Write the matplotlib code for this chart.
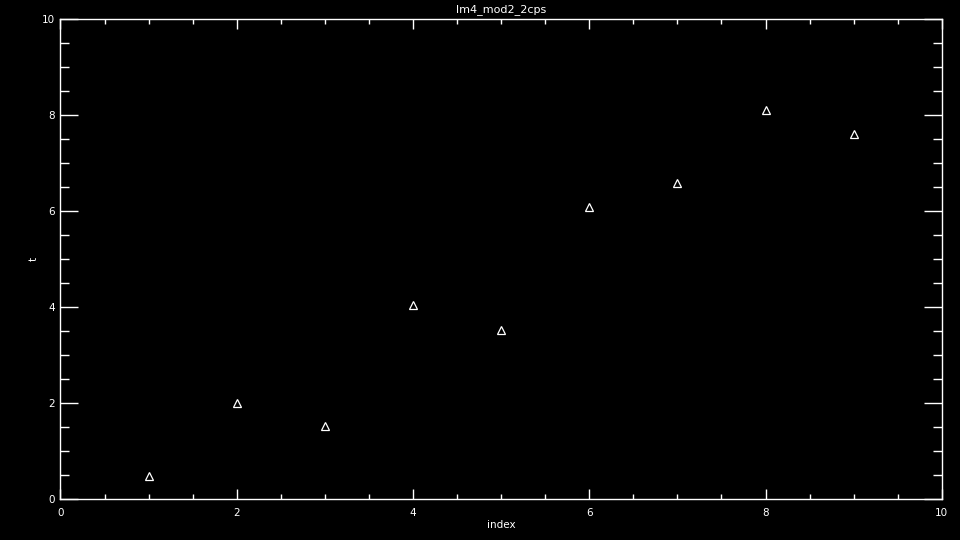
import matplotlib
matplotlib.use('Agg')
import matplotlib.pyplot as plt
from matplotlib.ticker import MultipleLocator

# values
index = [1, 2, 3, 4, 5, 6, 7, 8, 9]
t = [0.49, 2.01, 1.52, 4.04, 3.53, 6.08, 6.58, 8.10, 7.60]

title = 'lm4_mod2_2cps'

fig = plt.figure(figsize=(9.6, 5.4), dpi=100, facecolor='black')
ax = fig.add_axes([0.063, 0.0754, 0.918, 0.8889], facecolor='black')

ax.plot(index, t, linestyle='none', marker='^', markersize=5.5,
        markerfacecolor='none', markeredgecolor='white', markeredgewidth=0.9)

ax.set_xlim(0, 10)
ax.set_ylim(0, 10)
ax.xaxis.set_major_locator(MultipleLocator(2))
ax.xaxis.set_minor_locator(MultipleLocator(0.5))
ax.yaxis.set_major_locator(MultipleLocator(2))
ax.yaxis.set_minor_locator(MultipleLocator(0.5))

for s in ax.spines.values():
    s.set_color('white')
    s.set_linewidth(1.0)

ax.tick_params(which='both', direction='in', colors='white',
               top=True, right=True, width=1.0, labelsize=7.5)
ax.tick_params(axis='x', which='major', length=7.2, pad=6)
ax.tick_params(axis='x', which='minor', length=3.6)
ax.tick_params(axis='y', which='major', length=13, pad=4)
ax.tick_params(axis='y', which='minor', length=6.5)

ax.set_title(title, color='white', fontsize=8, pad=5.5)
ax.set_xlabel('index', color='white', fontsize=7.5, labelpad=2)
ax.set_ylabel('t', color='white', fontsize=7.5, labelpad=2)

fig.savefig('out.png', dpi=100, facecolor='black')
